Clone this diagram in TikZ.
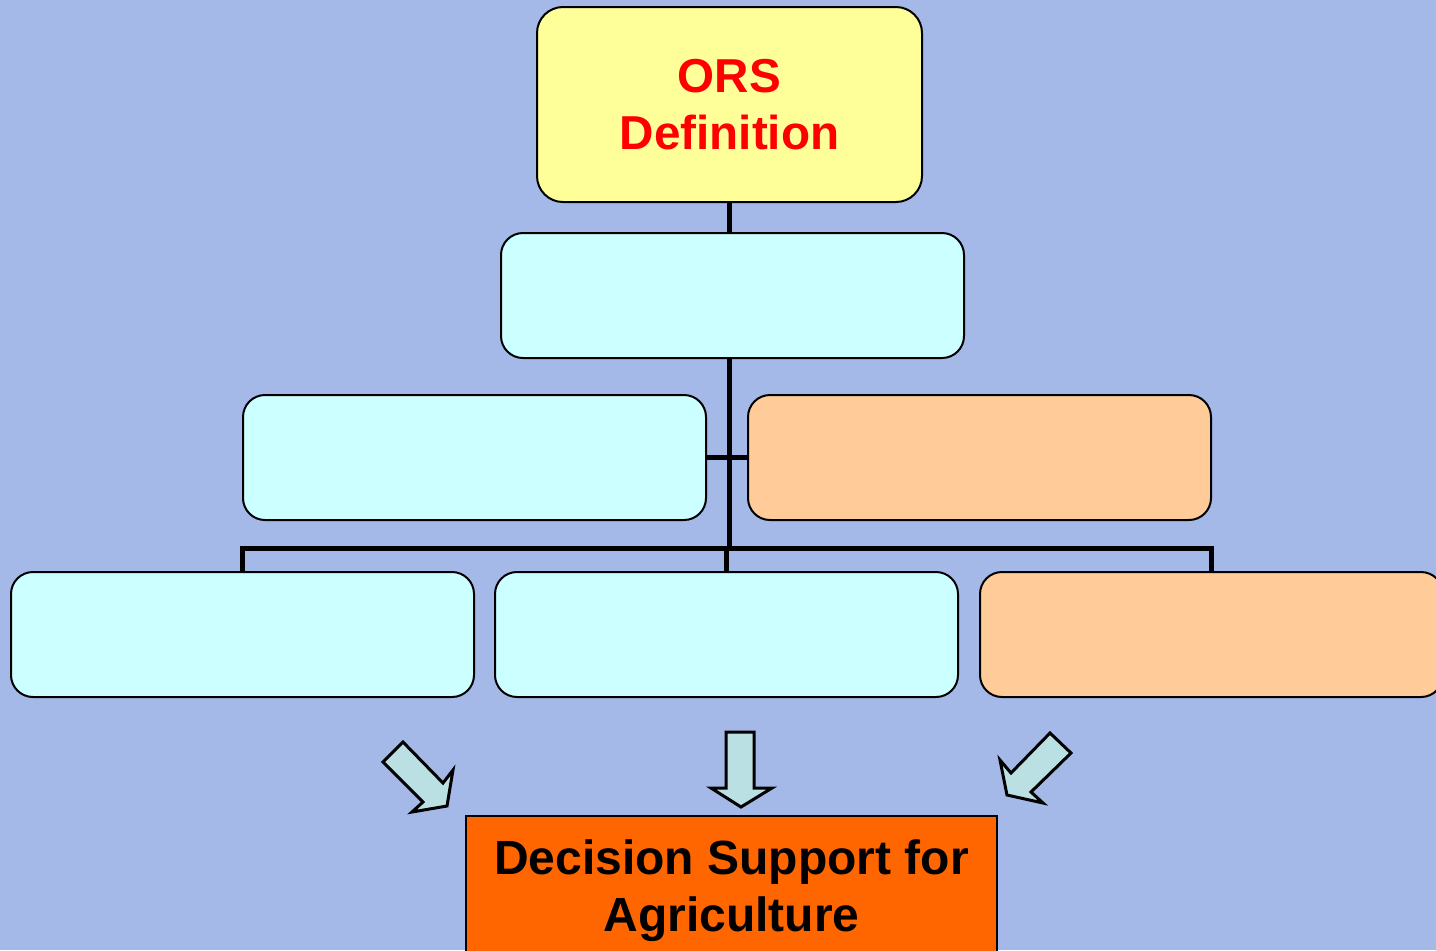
\documentclass[tikz,border=0pt]{standalone}
\usepackage{fontspec}
\setmainfont{Liberation Sans}
\definecolor{bg}{RGB}{164,185,232}
\definecolor{yel}{RGB}{255,255,153}
\definecolor{cya}{RGB}{204,255,255}
\definecolor{pch}{RGB}{255,204,153}
\definecolor{org}{RGB}{255,102,0}
\definecolor{arr}{RGB}{187,224,227}
\definecolor{ttl}{RGB}{255,0,0}
\tikzset{
  box/.style={draw=black, line width=1pt, rounded corners=11pt, minimum width=231.5pt, minimum height=62.5pt, inner sep=0pt},
  conn/.style={draw=black, line width=2.5pt},
  blockarrow/.style={draw=black, line width=1.5pt, fill=arr, line join=miter},
}
\begin{document}
\begin{tikzpicture}[x=0.5pt,y=-0.5pt]
\useasboundingbox (0,0) rectangle (1436,950);
\clip (0,0) rectangle (1436,950);
\fill[bg] (0,0) rectangle (1436,950);
% nodes
\node[box, fill=yel, rounded corners=13pt, minimum width=192.5pt, minimum height=97.5pt, align=center,
  font=\fontsize{23.8pt}{28.5pt}\selectfont\bfseries, text=ttl] (ors) at (729.5,104.5) {ORS\\Definition};
\node[box, fill=cya] (b2) at (732.5,295.5) {};
\node[box, fill=cya] (b3l) at (474.5,457.5) {};
\node[box, fill=pch] (b3r) at (979.5,457.5) {};
\node[box, fill=cya] (b4a) at (242.5,634.5) {};
\node[box, fill=cya] (b4b) at (726.5,634.5) {};
\node[box, fill=pch] (b4c) at (1211.5,634.5) {};
\node[draw=black, line width=1pt, fill=org, minimum width=265.5pt, minimum height=75pt, inner sep=0pt, align=center,
  font=\fontsize{24pt}{28.5pt}\selectfont\bfseries] (dsa) at (731.5,891) {Decision Support for\\Agriculture};
% connectors
\coordinate (bar) at (730,548);
\draw[conn] (ors.south) -- (ors.south |- b2.north);
\draw[conn] (b2.south -| ors.south) -- (ors.south |- bar);
\draw[conn] (b3l.east) -- (b3r.west);
\draw[conn, line cap=rect] (b4a.north |- bar) -- (b4c.north |- bar);
\draw[conn] (b4a.north |- bar) -- (b4a.north);
\draw[conn] (b4b.north |- bar) -- (b4b.north);
\draw[conn] (b4c.north |- bar) -- (b4c.north);
% block arrows
\draw[blockarrow] (403,742) -- (383,762) -- (423,802) -- (412,812) -- (447,806) -- (453,770) -- (443,783) -- cycle;
\draw[blockarrow] (726,732) -- (754,732) -- (754,788) -- (772,788) -- (741,807) -- (711,788) -- (726,788) -- cycle;
\draw[blockarrow] (1050,733) -- (1071,753) -- (1031,792) -- (1043,803) -- (1007,795) -- (1000,760) -- (1011,773) -- cycle;
\end{tikzpicture}
\end{document}
